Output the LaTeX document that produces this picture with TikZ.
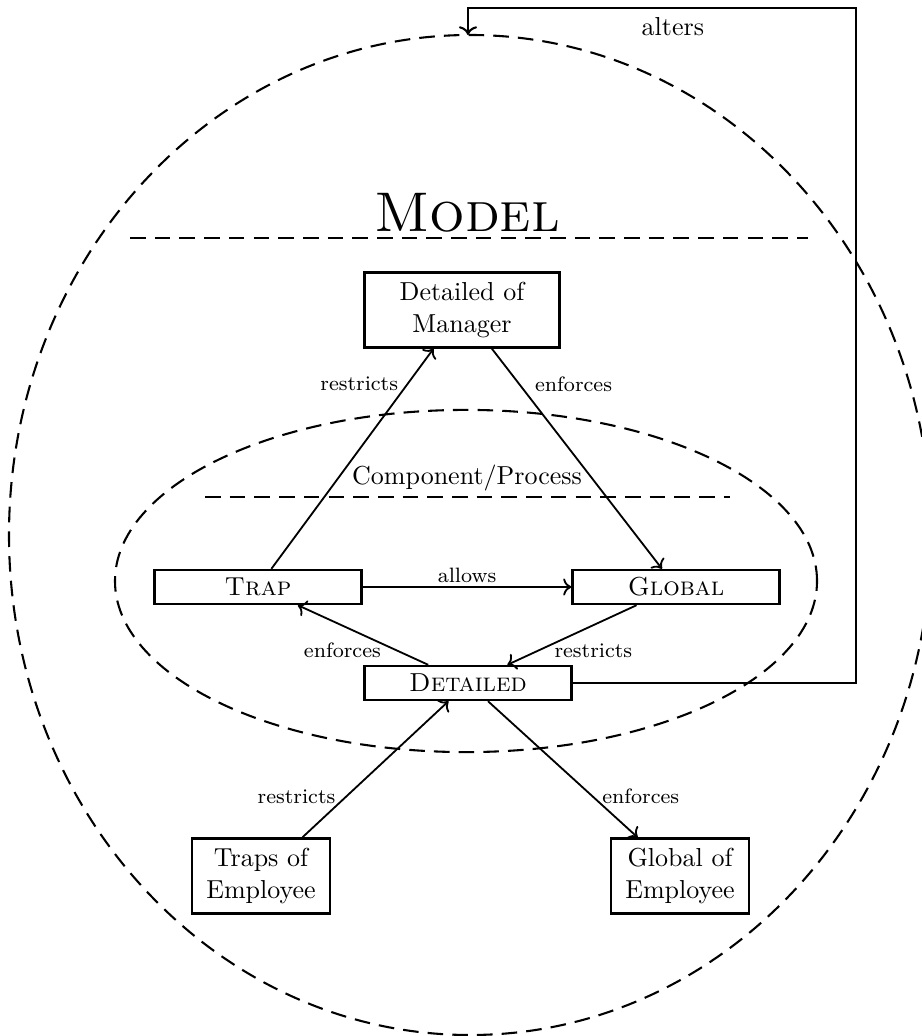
\documentclass[tikz,border=0pt]{standalone}
\usetikzlibrary{arrows.meta}
\begin{document}
\begin{tikzpicture}[x=0.3846pt,y=-0.3846pt,
  box/.style={draw, line width=0.9pt, align=center, inner sep=0pt, font=\normalsize},
  wide/.style={box, minimum width=79.6pt, minimum height=13.1pt},
  tallbox/.style={box, minimum height=28.8pt},
  conn/.style={->, line width=0.7pt},
  lbl/.style={font=\footnotesize},
  dashline/.style={dash pattern=on 6pt off 3.5pt, line width=0.8pt}]
\useasboundingbox (0,0) rectangle (921,1036);
% outer and inner regions
\draw[dashline] (470,535) ellipse [x radius=177.3pt, y radius=192.3pt];
\draw[dashline] (466,581) ellipse [x radius=135pt, y radius=65.8pt];
% titles
\node (model) at (467,213) {\fontsize{21.5}{26}\selectfont\textsc{Model}};
\coordinate (ml) at (130,238);
\coordinate (mr) at (808,238);
\draw[dashline] (ml) -- (mr);
\node (comp) at (467,478) {Component/Process};
\coordinate (cl) at (205,497);
\coordinate (cr) at (730,497);
\draw[dashline] (cl) -- (cr);
% nodes
\node[tallbox, minimum width=75pt] (dom) at (462,310) {Detailed of\\Manager};
\node[wide] (trap) at (258,587) {\textsc{Trap}};
\node[wide] (glob) at (676,587) {\textsc{Global}};
\node[wide] (det) at (468,683) {\textsc{Detailed}};
\node[tallbox, minimum width=53pt] (toe) at (261,876) {Traps of\\Employee};
\node[tallbox, minimum width=53pt] (goe) at (680,876) {Global of\\Employee};
% connectors
\draw[conn] (trap) -- (dom) node[lbl, pos=0.84, anchor=east] {restricts};
\draw[conn] (dom) -- (glob) node[lbl, pos=0.16, anchor=west, xshift=2.5pt] {enforces};
\draw[conn] (trap) -- (glob) node[lbl, midway, above, yshift=-2pt] {allows};
\draw[conn] (det) -- (trap) node[lbl, pos=0.24, anchor=east, xshift=-2.5pt] {enforces};
\draw[conn] (glob) -- (det) node[lbl, pos=0.76, anchor=west, xshift=2.5pt] {restricts};
\draw[conn] (toe) -- (det) node[lbl, pos=0.3, anchor=east, xshift=-0.5pt] {restricts};
\draw[conn] (det) -- (goe) node[lbl, pos=0.7, anchor=west] {enforces};
% alters feedback
\coordinate (corner) at (856,8);
\coordinate (altend) at (468,35);
\draw[->, line width=0.8pt] (det.east) -| (corner) -| (altend) node[pos=0.236, below] {alters};
\end{tikzpicture}
\end{document}
